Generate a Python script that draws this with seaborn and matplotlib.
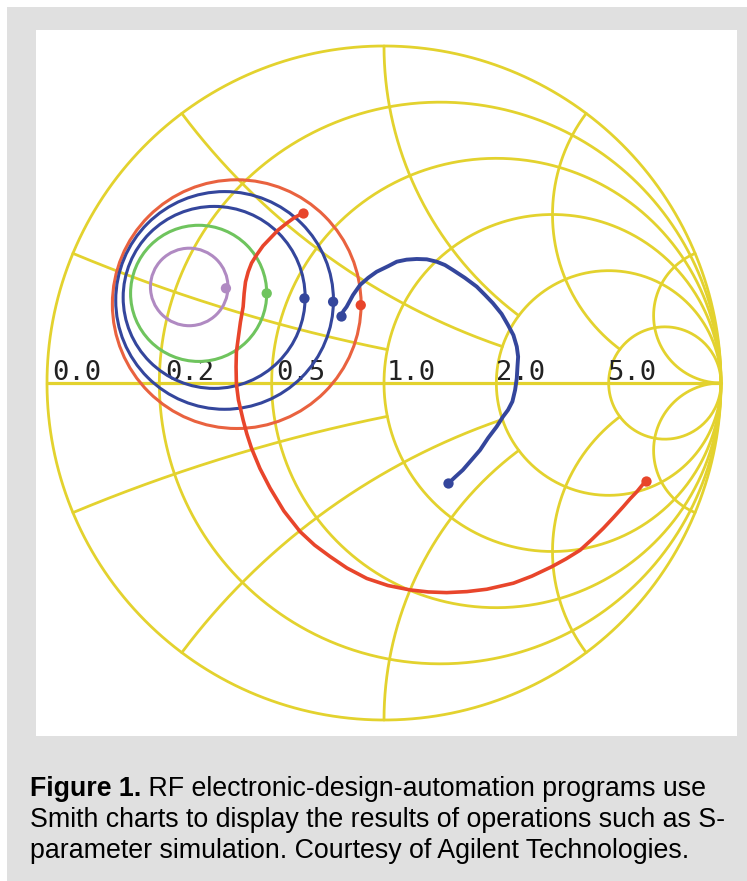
import numpy as np
import pandas as pd
import matplotlib
matplotlib.use("Agg")
import matplotlib.pyplot as plt
from matplotlib.patches import Circle, Rectangle
import seaborn as sns

# all trace values are reflection coefficient (re, im)
r_circles = [0.2, 0.5, 1.0, 2.0, 5.0]
x_arcs = [0.2, 0.5, 1.0, 2.0, 5.0]
x_arc_stop_r = [1.0, 2.0, 2.0, 5.0, 1e5]

axis_labels = ["0.0", "0.2", "0.5", "1.0", "2.0", "5.0"]
axis_label_re = [-0.985, -0.650, -0.320, 0.009, 0.332, 0.662]

# closed traces: centre and radius
ring_names = ["red", "outer blue", "inner blue", "green", "purple"]
ring_re = [-0.437, -0.473, -0.504, -0.550, -0.578]
ring_im = [0.234, 0.245, 0.254, 0.266, 0.285]
ring_radius = [0.369, 0.323, 0.270, 0.202, 0.115]
ring_dot_re = [-0.069, -0.151, -0.236, -0.348, -0.469]
ring_dot_im = [0.231, 0.241, 0.251, 0.266, 0.281]

blue_re = [-0.128, -0.120, -0.111, -0.092, -0.071, -0.047, -0.022, 0.013, 0.038, 0.067,
           0.097, 0.127, 0.156, 0.181, 0.205, 0.240, 0.275, 0.300, 0.323, 0.349,
           0.368, 0.384, 0.394, 0.398, 0.396, 0.394, 0.389, 0.381, 0.368, 0.353,
           0.334, 0.309, 0.285, 0.260, 0.234, 0.211, 0.191]
blue_im = [0.199, 0.214, 0.226, 0.261, 0.291, 0.312, 0.330, 0.347, 0.360, 0.366,
           0.368, 0.367, 0.360, 0.350, 0.335, 0.312, 0.286, 0.261, 0.237, 0.205,
           0.172, 0.142, 0.108, 0.078, 0.048, 0.014, -0.021, -0.055, -0.080, -0.100,
           -0.130, -0.163, -0.199, -0.228, -0.258, -0.279, -0.298]

red_re = [-0.241, -0.267, -0.289, -0.314, -0.338, -0.359, -0.378, -0.393, -0.403, -0.411,
          -0.415, -0.418, -0.426, -0.432, -0.438, -0.439, -0.438, -0.432, -0.418, -0.407,
          -0.393, -0.368, -0.338, -0.297, -0.249, -0.206, -0.160, -0.110, -0.051, 0.012,
          0.077, 0.131, 0.186, 0.246, 0.305, 0.384, 0.439, 0.498, 0.540, 0.582,
          0.617, 0.651, 0.681, 0.710, 0.730, 0.750, 0.777]
red_im = [0.504, 0.490, 0.474, 0.454, 0.429, 0.407, 0.380, 0.356, 0.330, 0.300,
          0.266, 0.226, 0.181, 0.137, 0.092, 0.048, -0.003, -0.050, -0.110, -0.151,
          -0.194, -0.254, -0.312, -0.380, -0.441, -0.481, -0.515, -0.549, -0.580, -0.601,
          -0.614, -0.620, -0.622, -0.619, -0.612, -0.594, -0.573, -0.545, -0.522, -0.496,
          -0.464, -0.431, -0.399, -0.367, -0.344, -0.323, -0.290]

caption_bold = "Figure 1."
caption_lines = [" RF electronic-design-automation programs use",
                 "Smith charts to display the results of operations such as S-",
                 "parameter simulation. Courtesy of Agilent Technologies."]

YELLOW = "#e3d22e"
RED = "#e8452b"
ORANGE = "#e9623f"
BLUE = "#34469c"
GREEN = "#6fc45e"
PURPLE = "#b08ac2"
ring_colors = [ORANGE, BLUE, BLUE, GREEN, PURPLE]
ring_dot_colors = [RED, BLUE, BLUE, GREEN, PURPLE]

W, H = 747, 881
CX, CY, R = 384.0, 383.0, 337.0      # chart centre and radius in pixels
PANEL = (36, 30, 737, 736)           # white panel: left, top, right, bottom


def gamma(z):
    return (z - 1) / (z + 1)


sns.set_theme(style="white")
plt.rcParams["font.family"] = ["Liberation Sans", "DejaVu Sans"]

fig = plt.figure(figsize=(W / 100, H / 100), dpi=100, facecolor="white")
fig.add_artist(Rectangle((7 / W, 0), (W - 7) / W, (H - 7) / H, transform=fig.transFigure,
                         facecolor="#e0e0e0", edgecolor="none", zorder=-1))

left, top, right, bottom = PANEL
ax = fig.add_axes([left / W, 1 - bottom / H, (right - left) / W, (bottom - top) / H])
ax.set_xlim((left - CX) / R, (right - CX) / R)
ax.set_ylim((CY - bottom) / R, (CY - top) / R)
ax.set_xticks([])
ax.set_yticks([])
ax.set_facecolor("white")
sns.despine(ax=ax, left=True, bottom=True)

# ---------------------------------------------------------------------------
# Smith chart grid
# ---------------------------------------------------------------------------
grid_lw = 2.0
t = np.linspace(-np.pi / 2 + 1e-4, np.pi / 2 - 1e-4, 800)
for r in [0.0] + r_circles:
    g = gamma(r + 1j * np.tan(t))
    ax.plot(g.real, g.imag, color=YELLOW, lw=grid_lw, zorder=1)

for x, stop in zip(x_arcs, x_arc_stop_r):
    rr = np.concatenate([[0.0], np.geomspace(1e-3, stop, 800)])
    for sign in (1, -1):
        g = gamma(rr + 1j * sign * x)
        ax.plot(g.real, g.imag, color=YELLOW, lw=grid_lw, zorder=1)

ax.plot([-1, 1], [0, 0], color=YELLOW, lw=grid_lw + 0.3, zorder=1)

for label, re in zip(axis_labels, axis_label_re):
    ax.text(re, 0.009, label, family="DejaVu Sans Mono", fontsize=19.5, color="#222222",
            ha="left", va="baseline", zorder=2)

# ---------------------------------------------------------------------------
# Traces
# ---------------------------------------------------------------------------
for re, im, rad, col in zip(ring_re, ring_im, ring_radius, ring_colors):
    ax.add_patch(Circle((re, im), rad, fill=False, edgecolor=col, lw=2.2, zorder=3))

sns.scatterplot(x=ring_dot_re, y=ring_dot_im, hue=ring_names, palette=ring_dot_colors,
                s=55, linewidth=0, legend=False, ax=ax, zorder=4)

blue = pd.DataFrame({"re": blue_re, "im": blue_im})
red = pd.DataFrame({"re": red_re, "im": red_im})
sns.lineplot(data=blue, x="re", y="im", sort=False, estimator=None, color=BLUE, lw=2.8,
             solid_joinstyle="round", ax=ax, zorder=4)
sns.lineplot(data=red, x="re", y="im", sort=False, estimator=None, color=RED, lw=2.6,
             solid_joinstyle="round", ax=ax, zorder=4)
sns.scatterplot(data=blue.iloc[[0, -1]], x="re", y="im", color=BLUE, s=55, linewidth=0,
                ax=ax, zorder=5)
sns.scatterplot(data=red.iloc[[0, -1]], x="re", y="im", color=RED, s=55, linewidth=0,
                ax=ax, zorder=5)
ax.set_xlabel("")
ax.set_ylabel("")

# ---------------------------------------------------------------------------
# Caption
# ---------------------------------------------------------------------------
cap_size = 19.25
baselines = [796, 827, 858]
bold = fig.text(30 / W, 1 - baselines[0] / H, caption_bold, fontsize=cap_size,
                fontweight="bold", color="black", va="baseline")
fig.canvas.draw()
bold_end = bold.get_window_extent().x1
fig.text(bold_end / W, 1 - baselines[0] / H, caption_lines[0], fontsize=cap_size,
         color="black", va="baseline")
for line, base in zip(caption_lines[1:], baselines[1:]):
    fig.text(30 / W, 1 - base / H, line, fontsize=cap_size, color="black", va="baseline")

fig.savefig("out.png", dpi=100)
